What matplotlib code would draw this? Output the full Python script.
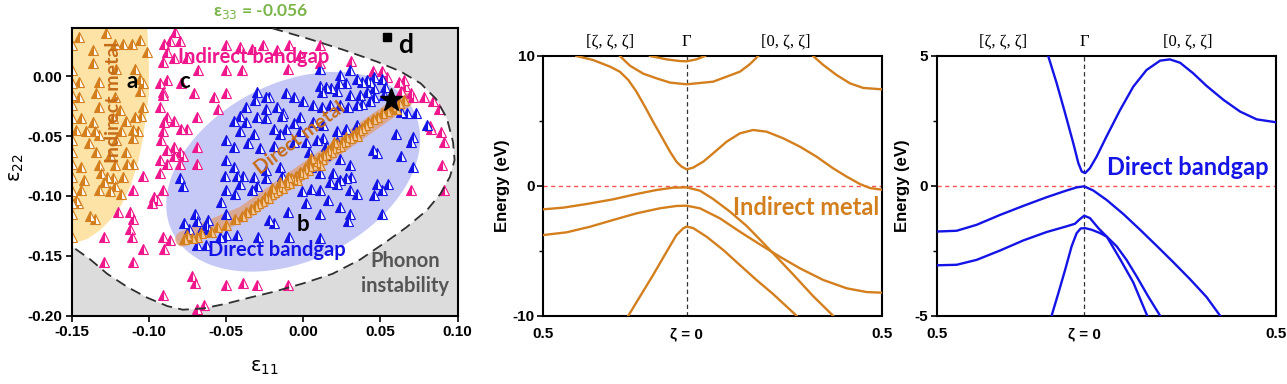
import matplotlib
matplotlib.use('Agg')
import matplotlib.pyplot as plt
import numpy as np

# ---------------- Panel 1 data (strain map) ----------------
metal_x = [-0.150, -0.145, -0.136, -0.128, -0.122, -0.117, -0.111, -0.106, -0.101, -0.150, -0.136, -0.121, -0.109,
           -0.150, -0.145, -0.132, -0.106, -0.104, -0.150, -0.145, -0.134, -0.122, -0.106, -0.104, -0.150, -0.132,
           -0.119, -0.109, -0.105, -0.150, -0.144, -0.136, -0.123, -0.115, -0.147, -0.141, -0.135, -0.132, -0.118,
           -0.110, -0.107, -0.150, -0.139, -0.121, -0.110, -0.150, -0.134, -0.125, -0.115, -0.150, -0.144, -0.132,
           -0.122, -0.114, -0.110, -0.150, -0.142, -0.131, -0.127, -0.123, -0.117, -0.150, -0.144, -0.132, -0.122,
           -0.118, -0.150, -0.146, -0.138, -0.135, -0.150, -0.150, -0.147, -0.129, -0.125]
metal_y = [0.026, 0.033, 0.022, 0.036, 0.027, 0.027, 0.027, 0.030, 0.020, 0.005, 0.011, 0.006, 0.006,
           -0.006, -0.005, -0.005, -0.002, -0.006, -0.016, -0.017, -0.014, -0.017, -0.012, -0.026, -0.024, -0.026,
           -0.028, -0.034, -0.033, -0.035, -0.035, -0.038, -0.035, -0.037, -0.045, -0.046, -0.046, -0.049, -0.046,
           -0.045, -0.046, -0.053, -0.056, -0.053, -0.052, -0.063, -0.063, -0.066, -0.063, -0.073, -0.076, -0.074,
           -0.074, -0.073, -0.073, -0.084, -0.087, -0.081, -0.084, -0.085, -0.084, -0.096, -0.095, -0.095, -0.092,
           -0.098, -0.106, -0.106, -0.117, -0.119, -0.115, -0.134, -0.103, -0.088, -0.096]

indirect_x = [-0.083, -0.090, -0.086, -0.080, -0.088, -0.084, -0.075, -0.068, -0.050, -0.041, -0.033, -0.026, -0.017,
              -0.002, 0.011, 0.031, -0.050, -0.040, -0.091, -0.093, -0.091, -0.091, -0.088, -0.079, -0.071, -0.058,
              -0.050, -0.055, -0.069, -0.093, -0.088, -0.090, -0.084, -0.079, -0.075, -0.091, -0.092, -0.084, -0.088,
              -0.080, -0.078, -0.069, -0.069, -0.093, -0.088, -0.084, -0.080, -0.093, -0.104, -0.097, -0.095, -0.098,
              -0.091, -0.110, -0.112, -0.110, -0.120, -0.112, -0.111, -0.104, -0.129, -0.129, -0.110, -0.091, -0.086,
              -0.090, -0.072, -0.070, -0.091, -0.050, -0.039, -0.030, -0.010, -0.069, -0.064, 0.062, 0.066, 0.063,
              0.070, 0.071, 0.078, 0.084, 0.082, 0.083, 0.091, 0.090, 0.091, 0.070, 0.054, 0.045, 0.065, -0.009,
              0.011, -0.010, 0.051, 0.088, 0.089]
indirect_y = [0.037, 0.027, 0.029, 0.029, 0.020, 0.015, 0.015, 0.005, 0.026, 0.024, 0.023, 0.026, 0.022,
              0.018, 0.011, 0.013, 0.005, 0.005, 0.012, -0.006, -0.013, -0.016, -0.003, -0.006, -0.014, -0.017,
              -0.014, -0.027, -0.034, -0.026, -0.034, -0.038, -0.037, -0.044, -0.044, -0.046, -0.053, -0.059, -0.062,
              -0.063, -0.067, -0.059, -0.073, -0.070, -0.073, -0.067, -0.073, -0.081, -0.083, -0.101, -0.103, -0.106,
              -0.095, -0.095, -0.113, -0.119, -0.113, -0.128, -0.134, -0.144, -0.134, -0.155, -0.155, -0.134, -0.137,
              -0.144, -0.167, -0.173, -0.183, -0.174, -0.173, -0.174, -0.174, -0.194, -0.191, -0.005, -0.008, -0.012,
              -0.014, -0.017, -0.017, -0.021, -0.042, -0.044, -0.055, -0.074, -0.095, -0.095, -0.001, 0.004, -0.003, 0.026,
              0.026, 0.006, 0.004, -0.027, -0.047]

direct_x = [0.011, 0.024, 0.030, 0.035, 0.023, 0.011, 0.015, 0.018, 0.028, 0.038, 0.041, 0.043, 0.046, 0.051, 0.053,
            0.046, 0.041, 0.037, 0.030, 0.022, 0.012, 0.000, -0.011, -0.006, 0.006, 0.012, 0.017, 0.024, 0.029, 0.035,
            0.038, 0.043, 0.046, 0.052, 0.058, 0.060, 0.063, 0.067, 0.073, 0.080, 0.060, 0.070, 0.045, 0.030, 0.024,
            0.013, 0.022, 0.028, 0.035, 0.013, 0.006, -0.002, -0.006, -0.013, -0.022, -0.024, -0.017, -0.019, -0.015,
            -0.011, -0.002, -0.006, 0.002, 0.009, 0.004, 0.015, 0.022, 0.014,
            -0.030, -0.024, -0.031, -0.037, -0.041, -0.045, -0.037, -0.030, -0.024, -0.014, -0.041, -0.032, -0.050,
            -0.045, -0.036, -0.028, -0.019, -0.050, -0.045, -0.024, -0.015, 0.005, 0.011, 0.019, 0.055, 0.071, 0.063,
            0.071, 0.048,
            -0.080, -0.078, -0.070, -0.077, -0.069, -0.062, -0.063, -0.074, -0.067, -0.062, -0.050, -0.053, -0.050,
            -0.044, -0.051, -0.043, -0.039, -0.041, -0.032, -0.033, -0.030, -0.024, -0.050, -0.043, -0.054, -0.029,
            -0.069, -0.063,
            -0.014, -0.001, 0.005, 0.011, 0.017, 0.022, 0.024, 0.028, 0.031, 0.035, 0.030, 0.048, 0.051, 0.046, 0.016,
            0.024, 0.030, 0.029, 0.011, 0.002, -0.010, -0.022, -0.019, 0.051, -0.009, 0.011]
direct_y = [0.006, 0.001, 0.005, -0.002, -0.006, -0.008, -0.009, -0.010, -0.006, -0.005, -0.003, -0.005, -0.001, -0.002,
            -0.009, -0.010, -0.013, -0.016, -0.016, -0.012, -0.013, -0.021, -0.014, -0.017, -0.024, -0.026, -0.024,
            -0.024, -0.026, -0.024, -0.023, -0.021, -0.017, -0.016, -0.020, -0.024, -0.030, -0.031, -0.031, -0.041,
            -0.048, -0.055, -0.062, -0.074, -0.069, -0.052, -0.046, -0.044, -0.041, -0.041, -0.038, -0.034, -0.039,
            -0.031, -0.017, -0.027, -0.026, -0.044, -0.048, -0.044, -0.046, -0.055, -0.055, -0.053, -0.063, -0.058,
            -0.055, -0.066,
            -0.013, -0.017, -0.020, -0.026, -0.033, -0.037, -0.038, -0.034, -0.035, -0.033, -0.046, -0.048, -0.053,
            -0.059, -0.056, -0.060, -0.058, -0.070, -0.076, -0.078, -0.076, -0.076, -0.081, -0.081, -0.090, -0.076,
            -0.067, -0.051, -0.064,
            -0.085, -0.092, -0.115, -0.123, -0.121, -0.120, -0.124, -0.128, -0.130, -0.128, -0.115, -0.105, -0.095,
            -0.098, -0.083, -0.083, -0.083, -0.090, -0.084, -0.095, -0.092, -0.085, -0.133, -0.133, -0.134, -0.134,
            -0.141, -0.141,
            -0.083, -0.096, -0.094, -0.095, -0.088, -0.090, -0.087, -0.085, -0.084, -0.098, -0.095, -0.090, -0.095,
            -0.099, -0.103, -0.109, -0.115, -0.121, -0.115, -0.106, -0.113, -0.120, -0.123, -0.115, -0.134, -0.135]

dmetal_x = [-0.077, -0.075, -0.072, -0.069, -0.066, -0.060, -0.056, -0.050, -0.044, -0.040, -0.037, -0.034, -0.031,
            -0.029, -0.027, -0.025, -0.023, -0.021, -0.019, -0.017, -0.016, -0.014, -0.012, -0.011, -0.009, -0.008,
            -0.006, -0.005, -0.003, -0.002, 0.000, 0.001, 0.003, 0.004, 0.006, 0.007, 0.009, 0.010, 0.012, 0.013,
            0.015, 0.016, 0.018, 0.019, 0.021, 0.022, 0.024, 0.025, 0.027, 0.028, 0.030, 0.032, 0.034, 0.036, 0.038,
            0.040, 0.042, 0.045, 0.048, 0.051, 0.054, 0.058, 0.062, 0.065, 0.060, -0.010, 0.005, 0.020, -0.020, 0.035,
            0.011, -0.004, -0.015]
dmetal_y = [-0.136, -0.133, -0.135, -0.134, -0.131, -0.130, -0.126, -0.124, -0.119, -0.117, -0.113, -0.111, -0.108,
            -0.106, -0.104, -0.101, -0.102, -0.098, -0.097, -0.095, -0.092, -0.093, -0.090, -0.088, -0.089, -0.085,
            -0.086, -0.083, -0.082, -0.080, -0.081, -0.077, -0.078, -0.075, -0.074, -0.071, -0.072, -0.068, -0.069,
            -0.066, -0.065, -0.062, -0.063, -0.060, -0.059, -0.057, -0.058, -0.055, -0.054, -0.051, -0.052, -0.049,
            -0.047, -0.045, -0.043, -0.041, -0.038, -0.036, -0.034, -0.031, -0.029, -0.025, -0.022, -0.020, -0.027,
            -0.084, -0.068, -0.055, -0.093, -0.050, -0.074, -0.087, -0.088]

# phonon-stability boundary (dashed curve)
phon_x = [-0.020, 0.004, 0.026, 0.048, 0.063, 0.076, 0.086, 0.093, 0.097, 0.098, 0.095, 0.089, 0.080, 0.067, 0.054,
          0.037, 0.019, 0.000, -0.019, -0.035, -0.050, -0.065, -0.078, -0.088, -0.101, -0.114, -0.127, -0.138, -0.150]
phon_y = [0.040, 0.031, 0.022, 0.012, 0.004, -0.006, -0.019, -0.035, -0.055, -0.070, -0.084, -0.098, -0.112, -0.126,
          -0.138, -0.153, -0.165, -0.173, -0.180, -0.185, -0.190, -0.194, -0.195, -0.192, -0.185, -0.176, -0.165,
          -0.153, -0.142]
# indirect-metal region boundary
ymet_x = [-0.150, -0.101, -0.100, -0.100, -0.102, -0.104, -0.107, -0.112, -0.118, -0.125, -0.132, -0.140, -0.150]
ymet_y = [0.040, 0.040, 0.010, -0.015, -0.035, -0.053, -0.072, -0.092, -0.108, -0.120, -0.129, -0.136, -0.140]
# direct-metal band centre line
dband_x = [-0.078, -0.039, 0.066]
dband_y = [-0.136, -0.115, -0.020]
# direct-bandgap ellipse (centre, two semi-axis vectors)
ell_c = (-0.0065, -0.0798)
ell_u = (0.0780, 0.0511)
ell_v = (0.0261, -0.0659)
star_pt = (0.057, -0.0195)
square_pt = (0.054, 0.0328)

# ---------------- Band structure data ----------------
xtick_labels = ['0.5', 'ζ = 0', '0.5']
path_labels = ['[ζ, ζ, ζ]', 'Γ', '[0, ζ, ζ]']

gamma2 = 0.423
k2_c1 = [0.098, 0.147, 0.197, 0.226, 0.251, 0.275, 0.300, 0.324, 0.349, 0.374, 0.393, 0.408, 0.423, 0.442, 0.472,
         0.501, 0.541, 0.580, 0.619, 0.659, 0.708, 0.757, 0.806, 0.855, 0.895, 0.934, 0.964, 1.0]
e2_c1 = [10.0, 9.69, 9.18, 8.79, 8.15, 7.25, 6.10, 4.94, 3.79, 2.63, 1.86, 1.48, 1.27, 1.40, 1.86, 2.50, 3.40, 4.04,
         4.30, 4.17, 3.66, 3.02, 2.25, 1.35, 0.71, 0.14, -0.17, -0.30]
k2_c2 = [0.226, 0.256, 0.295, 0.334, 0.374, 0.423, 0.501, 0.580, 0.610, 0.634]
e2_c2 = [10.0, 9.25, 8.64, 8.28, 7.95, 7.82, 8.02, 8.79, 9.38, 10.0]
k2_c3 = [0.315, 0.364, 0.403, 0.423, 0.452, 0.477]
e2_c3 = [10.0, 9.74, 9.61, 9.59, 9.74, 10.0]
k2_c4 = [0.796, 0.826, 0.865, 0.905, 0.944, 1.0]
e2_c4 = [10.0, 9.31, 8.54, 7.89, 7.54, 7.43]
k2_v1 = [0.0, 0.059, 0.128, 0.206, 0.275, 0.334, 0.383, 0.423, 0.462, 0.501, 0.551, 0.600, 0.649, 0.698, 0.747,
         0.796, 0.855]
e2_v1 = [-1.81, -1.68, -1.40, -1.04, -0.63, -0.32, -0.14, -0.12, -0.37, -1.01, -1.99, -3.09, -4.40, -5.74, -7.10,
         -8.49, -10.0]
k2_v2 = [0.0, 0.069, 0.138, 0.206, 0.275, 0.344, 0.393, 0.423, 0.462, 0.521, 0.580, 0.639, 0.698, 0.757, 0.826,
         0.895, 0.954, 1.0]
e2_v2 = [-3.79, -3.58, -3.15, -2.63, -2.12, -1.73, -1.55, -1.53, -1.73, -2.50, -3.53, -4.51, -5.46, -6.35, -7.25,
         -7.89, -8.18, -8.23]
k2_v3 = [0.251, 0.285, 0.324, 0.364, 0.393, 0.413, 0.423, 0.442, 0.482, 0.531, 0.580, 0.629, 0.678, 0.747]
e2_v3 = [-10.0, -8.54, -6.87, -5.07, -3.79, -3.27, -3.14, -3.25, -3.92, -4.94, -6.10, -7.25, -8.33, -10.0]

gamma3 = 0.435
k3_c = [0.329, 0.354, 0.379, 0.403, 0.418, 0.428, 0.438, 0.452, 0.472, 0.501, 0.541, 0.580, 0.619, 0.659, 0.688,
        0.718, 0.757, 0.796, 0.846, 0.895, 0.944, 1.0]
e3_c = [5.0, 3.95, 2.79, 1.64, 0.87, 0.55, 0.49, 0.68, 1.13, 1.90, 2.92, 3.82, 4.46, 4.82, 4.87, 4.74, 4.33, 3.85,
        3.31, 2.86, 2.56, 2.45]
k3_v1 = [0.0, 0.059, 0.118, 0.187, 0.256, 0.324, 0.383, 0.413, 0.435, 0.462, 0.501, 0.551, 0.600, 0.649, 0.698,
         0.747, 0.796, 0.836]
e3_v1 = [-1.76, -1.73, -1.50, -1.12, -0.77, -0.44, -0.18, -0.06, -0.02, -0.18, -0.54, -1.09, -1.69, -2.31, -2.94,
         -3.59, -4.28, -5.0]
k3_v2 = [0.0, 0.059, 0.118, 0.187, 0.256, 0.324, 0.383, 0.408, 0.420, 0.435, 0.452, 0.477, 0.502, 0.541, 0.580, 0.621]
e3_v2 = [-3.06, -3.04, -2.85, -2.49, -2.10, -1.78, -1.56, -1.46, -1.31, -1.15, -1.24, -1.63, -1.96, -2.82, -3.72, -5.0]
k3_v3 = [0.339, 0.359, 0.379, 0.398, 0.413, 0.425, 0.438, 0.457, 0.482, 0.502, 0.531, 0.560, 0.590, 0.624, 0.659]
e3_v3 = [-5.0, -4.13, -3.23, -2.33, -1.82, -1.64, -1.63, -1.69, -1.82, -1.96, -2.33, -2.85, -3.49, -4.26, -5.0]

# ---------------- Styles ----------------
ORANGE = '#d47f1e'
ORANGE_TXT = '#c66c18'
PINK = '#f0168c'
BLUE = '#1414e6'
GREEN = '#79b548'
TICKFONT = 'Liberation Sans'
ANNFONT = 'Lato'

fig = plt.figure(figsize=(12.87, 3.84), dpi=100)

# ================= Panel 1 =================
ax1 = fig.add_axes([0.0557, 0.1779, 0.2999, 0.7484])
ax1.set_xlim(-0.15, 0.10)
ax1.set_ylim(-0.20, 0.04)
ax1.set_facecolor('#dcdcdc')

wx = [-0.150] + phon_x + [-0.150]
wy = [0.040] + phon_y + [0.040]
ax1.fill(wx, wy, color='white', zorder=0.5, lw=0)
ax1.fill(ymet_x, ymet_y, color='#fde3a6', zorder=0.6, lw=0)
t = np.linspace(0, 2 * np.pi, 200)
ex = ell_c[0] + np.cos(t) * ell_u[0] + np.sin(t) * ell_v[0]
ey = ell_c[1] + np.cos(t) * ell_u[1] + np.sin(t) * ell_v[1]
ax1.fill(ex, ey, color='#c6c9f6', zorder=0.7, lw=0)
ax1.plot(dband_x, dband_y, color='#dea07c', lw=11, alpha=0.8, solid_capstyle='round', zorder=0.8)


def tri(ax, xs, ys, color, alt='white'):
    ax.plot(xs, ys, linestyle='none', marker='^', ms=6.8, mfc=color, mec=color, mew=0.8,
            fillstyle='left', markerfacecoloralt=alt, zorder=2)


tri(ax1, metal_x, metal_y, ORANGE)
tri(ax1, indirect_x, indirect_y, PINK)
tri(ax1, direct_x, direct_y, BLUE)
tri(ax1, dmetal_x, dmetal_y, ORANGE, alt='#f3c89a')

ax1.plot(phon_x, phon_y, color='#303030', lw=1.3, dashes=(6, 3.5), zorder=3)
ax1.plot([star_pt[0]], [star_pt[1]], marker='*', ms=17, color='black', zorder=4, linestyle='none')
ax1.plot([square_pt[0]], [square_pt[1]], marker='s', ms=6, color='black', zorder=4, linestyle='none')

ax1.text(-0.0324, 0.0161, 'Indirect bandgap', color=PINK, fontsize=14.5, fontweight='bold', family=ANNFONT,
         ha='center', va='center', zorder=5)
ax1.text(-0.123, -0.0214, 'Indirect metal', color=ORANGE_TXT, fontsize=14, fontweight='bold', family=ANNFONT,
         ha='center', va='center', rotation=90, zorder=5)
ax1.text(-0.002, -0.0515, 'Direct metal', color=ORANGE_TXT, fontsize=14, fontweight='bold', family=ANNFONT,
         ha='center', va='center', rotation=37, rotation_mode='anchor', zorder=5)
ax1.text(-0.0173, -0.145, 'Direct bandgap', color=BLUE, fontsize=14.5, fontweight='bold', family=ANNFONT,
         ha='center', va='center', zorder=5)
ax1.text(0.0659, -0.1646, 'Phonon\ninstability', color='#555555', fontsize=14.5, fontweight='bold', family=ANNFONT,
         ha='center', va='center', linespacing=1.3, zorder=5)
for s, (x, y), fs in [('a', (-0.111, -0.0047), 16), ('c', (-0.0767, -0.0047), 16), ('b', (0.0, -0.124), 16),
                      ('d', (0.0665, 0.0259), 19)]:
    ax1.text(x, y, s, color='black', fontsize=fs, fontweight='bold', family=ANNFONT, ha='center', va='center',
             zorder=5)

ax1.set_xticks([-0.15, -0.10, -0.05, 0.00, 0.05, 0.10])
ax1.set_xticklabels(['-0.15', '-0.10', '-0.05', '0.00', '0.05', '0.10'])
ax1.set_yticks([-0.20, -0.15, -0.10, -0.05, 0.00])
ax1.set_yticklabels(['-0.20', '-0.15', '-0.10', '-0.05', '0.00'])
ax1.tick_params(direction='out', length=4, width=1.2, labelsize=11, pad=3)
for lbl in ax1.get_xticklabels() + ax1.get_yticklabels():
    lbl.set_fontweight('bold')
    lbl.set_family(TICKFONT)
for sp in ax1.spines.values():
    sp.set_linewidth(1.5)
ax1.text(0.50, -0.182, 'ε$_{11}$', transform=ax1.transAxes, ha='center', va='center', fontsize=14)
ax1.text(-0.142, 0.514, 'ε$_{22}$', transform=ax1.transAxes, ha='center', va='center', fontsize=14, rotation=90)
ax1.text(0.488, 1.057, 'ε$_{33}$ = -0.056', transform=ax1.transAxes, ha='center', va='center', fontsize=12.5,
         color=GREEN, fontweight='bold', family=ANNFONT)


# ================= Band panels =================
def band_panel(rect, gamma, bands, color, ylim, yticks, yminor, label, label_xy, label_fs, ylabel_x, path_x,
               label_color):
    ax = fig.add_axes(rect)
    ax.set_xlim(0, 1)
    ax.set_ylim(*ylim)
    for kk, ee in bands:
        ax.plot(kk, ee, color=color, lw=1.7, zorder=3)
    ax.axhline(0, color='#ff5555', lw=1.0, dashes=(3, 2.5), zorder=2)
    ax.axvline(gamma, color='#333333', lw=0.9, dashes=(3.5, 2.5), zorder=2)
    ax.set_xticks([0, gamma, 1])
    ax.set_xticklabels(xtick_labels)
    ax.set_yticks(yticks)
    ax.set_yticklabels([str(v) for v in yticks])
    ax.set_yticks(yminor, minor=True)
    ax.tick_params(axis='x', length=0, pad=8, labelsize=11)
    ax.tick_params(axis='y', which='major', direction='out', length=4, width=1.2, labelsize=11, pad=2)
    ax.tick_params(axis='y', which='minor', direction='out', length=3, width=1.0)
    for lbl in ax.get_xticklabels() + ax.get_yticklabels():
        lbl.set_fontweight('bold')
        lbl.set_family(TICKFONT)
    for sp in ax.spines.values():
        sp.set_linewidth(1.5)
    ax.set_ylabel('Energy (eV)', fontsize=12, fontweight='bold', family=TICKFONT)
    ax.yaxis.set_label_coords(ylabel_x, 0.5)
    for xpos, s in zip(path_x, path_labels):
        ax.text(xpos, 1.055, s, transform=ax.get_xaxis_transform(), ha='center', va='center',
                fontsize=12, family='Liberation Serif')
    ax.text(label_xy[0], label_xy[1], label, color=label_color, fontsize=label_fs, fontweight='bold',
            family=ANNFONT, ha='center', va='center', zorder=4)
    return ax


bands2 = [(k2_c1, e2_c1), (k2_c2, e2_c2), (k2_c3, e2_c3), (k2_c4, e2_c4),
          (k2_v1, e2_v1), (k2_v2, e2_v2), (k2_v3, e2_v3)]
band_panel([0.4221, 0.1779, 0.2634, 0.6763], gamma2, bands2, ORANGE, (-10, 10), [-10, 0, 10], [-5, 5],
           'Indirect metal', (0.776, -1.63), 17, -0.098, [0.197, gamma2, 0.716], ORANGE)

bands3 = [(k3_c, e3_c), (k3_v1, e3_v1), (k3_v2, e3_v2), (k3_v3, e3_v3)]
band_panel([0.7278, 0.1779, 0.2634, 0.6763], gamma3, bands3, BLUE, (-5, 5), [-5, 0, 5], [-2.5, 2.5],
           'Direct bandgap', (0.740, 0.71), 17, -0.079, [0.196, gamma3, 0.742], BLUE)

fig.savefig('out.png', dpi=100)
